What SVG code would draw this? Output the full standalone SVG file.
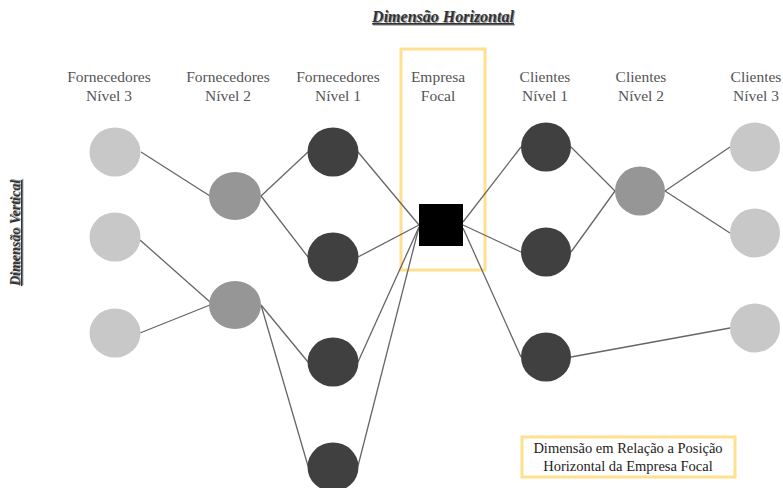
<svg xmlns="http://www.w3.org/2000/svg" width="783" height="488" viewBox="0 0 783 488">
<style>
.lbl{font-family:"Liberation Serif","Times New Roman",serif;font-size:15.5px;fill:#555;text-anchor:middle}
.hd{font-family:"Liberation Serif","Times New Roman",serif;font-weight:bold;font-style:italic;text-decoration:underline;text-anchor:middle}
.box{font-family:"Liberation Serif","Times New Roman",serif;font-size:14.5px;fill:#222;text-anchor:middle}
.n3{fill:#c8c8c8}
.n2{fill:#969696}
.n1{fill:#404040}
.yb{fill:none;stroke:#ffe08f;stroke-width:3}
#edges line{stroke:#666;stroke-width:1.3}
</style>
<rect width="783" height="488" fill="#fff"/>
<g id="title">
<text class="hd" x="444" y="23" fill="#999" font-size="16">Dimensão Horizontal</text>
<text class="hd" x="443" y="22" fill="#333" font-size="16">Dimensão Horizontal</text>
</g>
<g id="vtitle">
<text class="hd" transform="translate(20,233) rotate(-90)" fill="#999" x="1" y="1" font-size="14">Dimensão Vertical</text>
<text class="hd" transform="translate(20,233) rotate(-90)" fill="#333" font-size="14">Dimensão Vertical</text>
</g>
<g id="focal-frame"><rect class="yb" x="401" y="49" width="84" height="221"/></g>
<g id="labels">
<text class="lbl" x="109" y="82">Fornecedores</text><text class="lbl" x="109" y="101">Nível 3</text>
<text class="lbl" x="228" y="82">Fornecedores</text><text class="lbl" x="228" y="101">Nível 2</text>
<text class="lbl" x="338" y="82">Fornecedores</text><text class="lbl" x="338" y="101">Nível 1</text>
<text class="lbl" x="438" y="82">Empresa</text><text class="lbl" x="438" y="101">Focal</text>
<text class="lbl" x="545" y="82">Clientes</text><text class="lbl" x="545" y="101">Nível 1</text>
<text class="lbl" x="641" y="82">Clientes</text><text class="lbl" x="641" y="101">Nível 2</text>
<text class="lbl" x="756" y="82">Clientes</text><text class="lbl" x="756" y="101">Nível 3</text>
</g>
<g id="edges">
<line x1="141" y1="152" x2="210" y2="196"/>
<line x1="140" y1="240" x2="210" y2="302"/>
<line x1="140" y1="333" x2="210" y2="305"/>
<line x1="261" y1="196" x2="308" y2="152"/>
<line x1="261" y1="196" x2="308" y2="257"/>
<line x1="261" y1="305" x2="308" y2="362"/>
<line x1="261" y1="305" x2="308" y2="466"/>
<line x1="358" y1="152" x2="419" y2="225"/>
<line x1="358" y1="257" x2="419" y2="225"/>
<line x1="358" y1="362" x2="419" y2="227"/>
<line x1="358" y1="466" x2="419" y2="227"/>
<line x1="463" y1="222" x2="521" y2="147"/>
<line x1="463" y1="225" x2="521" y2="252"/>
<line x1="463" y1="228" x2="521" y2="357"/>
<line x1="571" y1="147" x2="615" y2="191"/>
<line x1="571" y1="252" x2="615" y2="191"/>
<line x1="665" y1="191" x2="730" y2="147"/>
<line x1="665" y1="191" x2="730" y2="233"/>
<line x1="571" y1="357" x2="730" y2="328"/>
</g>
<g id="s3a"><ellipse class="n3" cx="115" cy="152" rx="25.5" ry="24.5"/></g>
<g id="s3b"><ellipse class="n3" cx="115" cy="237" rx="25.5" ry="24.5"/></g>
<g id="s3c"><ellipse class="n3" cx="115" cy="333" rx="25.5" ry="24.5"/></g>
<g id="s2a"><ellipse class="n2" cx="235" cy="196" rx="26" ry="24"/></g>
<g id="s2b"><ellipse class="n2" cx="235" cy="305" rx="26" ry="24"/></g>
<g id="s1a"><ellipse class="n1" cx="333" cy="152" rx="25.5" ry="24.5"/></g>
<g id="s1b"><ellipse class="n1" cx="333" cy="257" rx="25.5" ry="24.5"/></g>
<g id="s1c"><ellipse class="n1" cx="333" cy="362" rx="25.5" ry="24.5"/></g>
<g id="s1d"><ellipse class="n1" cx="333" cy="467" rx="25.5" ry="24.5"/></g>
<g id="focal"><rect x="419" y="204" width="44" height="42" fill="#000"/></g>
<g id="c1a"><ellipse class="n1" cx="546" cy="147" rx="25" ry="24.5"/></g>
<g id="c1b"><ellipse class="n1" cx="546" cy="252" rx="25" ry="24.5"/></g>
<g id="c1c"><ellipse class="n1" cx="546" cy="357" rx="25" ry="24.5"/></g>
<g id="c2"><ellipse class="n2" cx="640" cy="191" rx="25" ry="24.5"/></g>
<g id="c3a"><ellipse class="n3" cx="755" cy="147" rx="25" ry="24.5"/></g>
<g id="c3b"><ellipse class="n3" cx="755" cy="233" rx="25" ry="24.5"/></g>
<g id="c3c"><ellipse class="n3" cx="755" cy="328" rx="25" ry="24.5"/></g>
<g id="legend">
<rect class="yb" x="522" y="437" width="213" height="40"/>
<text class="box" x="628" y="453">Dimensão em Relação a Posição</text>
<text class="box" x="628" y="471">Horizontal da Empresa Focal</text>
</g>
</svg>
